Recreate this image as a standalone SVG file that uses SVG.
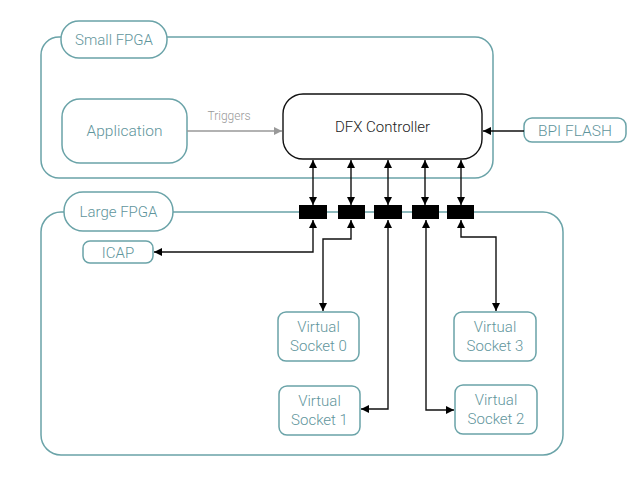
<svg xmlns="http://www.w3.org/2000/svg" width="642" height="479" viewBox="0 0 642 479">
<style>
.cont{fill:none;stroke:#6aa3a8;stroke-width:1.5}
.pill{fill:#fff;stroke:#6aa3a8;stroke-width:1.5}
.lbl{font-family:Roboto,"Liberation Sans",sans-serif;font-weight:300;fill:#5f959c;text-anchor:middle;font-size:15px}
.dark{font-family:Roboto,"Liberation Sans",sans-serif;font-weight:300;fill:#222;text-anchor:middle}
.w{fill:none;stroke:#111;stroke-width:1.4}
.sw{fill:#000}
</style>
<defs>
<marker id="ah" viewBox="0 0 10 10" refX="10" refY="5" markerWidth="9" markerHeight="8" markerUnits="userSpaceOnUse" orient="auto-start-reverse"><path d="M0,0L10,5L0,10z" fill="#000"/></marker>
<marker id="ahg" viewBox="0 0 10 10" refX="10" refY="5" markerWidth="9" markerHeight="8" markerUnits="userSpaceOnUse" orient="auto"><path d="M0,0L10,5L0,10z" fill="#999"/></marker>
</defs>
<rect width="642" height="479" fill="#fff"/>
<g id="small-fpga">
<rect class="cont" x="41" y="37" width="452" height="141" rx="18"/>
<rect class="pill" x="61" y="21" width="106" height="37" rx="18"/>
<text class="lbl" x="114" y="45">Small FPGA</text>
</g>
<g id="large-fpga">
<rect class="cont" x="41" y="212" width="522" height="243" rx="20"/>
<rect class="pill" x="64" y="192" width="109" height="39" rx="19"/>
<text class="lbl" x="118.500" y="217">Large FPGA</text>
</g>
<g id="application">
<rect class="pill" x="62" y="99" width="125" height="64" rx="18"/>
<text class="lbl" x="124.500" y="136" style="font-size:15.500px">Application</text>
</g>
<g id="dfx-controller">
<rect x="283" y="94" width="199" height="65" rx="20" fill="#fff" stroke="#111" stroke-width="1.4"/>
<text class="dark" x="382.500" y="132" font-size="15">DFX Controller</text>
</g>
<g id="bpi-flash">
<rect class="pill" x="524" y="118" width="102" height="24" rx="8"/>
<text class="lbl" x="575" y="135.500" style="font-size:15.500px">BPI FLASH</text>
</g>
<g id="icap">
<rect class="pill" x="83" y="241" width="70" height="22" rx="7"/>
<text class="lbl" x="118" y="257.500">ICAP</text>
</g>
<g id="vs0">
<rect class="pill" x="278" y="312" width="81" height="49" rx="8"/>
<text class="lbl" x="318.500" y="332">Virtual</text>
<text class="lbl" x="318.500" y="351">Socket 0</text>
</g>
<g id="vs1">
<rect class="pill" x="279" y="386" width="81" height="49" rx="8"/>
<text class="lbl" x="319.500" y="406">Virtual</text>
<text class="lbl" x="319.500" y="425">Socket 1</text>
</g>
<g id="vs2">
<rect class="pill" x="455" y="385" width="82" height="49" rx="8"/>
<text class="lbl" x="496" y="405">Virtual</text>
<text class="lbl" x="496" y="424">Socket 2</text>
</g>
<g id="vs3">
<rect class="pill" x="454" y="312" width="82" height="49" rx="8"/>
<text class="lbl" x="495" y="332">Virtual</text>
<text class="lbl" x="495" y="351">Socket 3</text>
</g>
<g id="connectors">
<line x1="187" y1="131" x2="282" y2="131" stroke="#999" stroke-width="1.4" marker-end="url(#ahg)"/>
<text x="229" y="120" font-family="Roboto,'Liberation Sans',sans-serif" font-weight="300" font-size="12" fill="#999" text-anchor="middle">Triggers</text>
<line class="w" x1="524" y1="131" x2="483" y2="131" marker-end="url(#ah)"/>
<line class="w" x1="313" y1="205" x2="313" y2="160" marker-start="url(#ah)" marker-end="url(#ah)"/>
<line class="w" x1="351" y1="205" x2="351" y2="160" marker-start="url(#ah)" marker-end="url(#ah)"/>
<line class="w" x1="388" y1="205" x2="388" y2="160" marker-start="url(#ah)" marker-end="url(#ah)"/>
<line class="w" x1="425" y1="205" x2="425" y2="160" marker-start="url(#ah)" marker-end="url(#ah)"/>
<line class="w" x1="461" y1="205" x2="461" y2="160" marker-start="url(#ah)" marker-end="url(#ah)"/>
<polyline class="w" points="313,220 313,252 154,252" marker-start="url(#ah)" marker-end="url(#ah)"/>
<polyline class="w" points="351,220 351,239 323,239 323,311" marker-start="url(#ah)" marker-end="url(#ah)"/>
<polyline class="w" points="388,220 388,409 361,409" marker-start="url(#ah)" marker-end="url(#ah)"/>
<polyline class="w" points="426,220 426,410 454,410" marker-start="url(#ah)" marker-end="url(#ah)"/>
<polyline class="w" points="461,220 461,237 496,237 496,311" marker-start="url(#ah)" marker-end="url(#ah)"/>
</g>
<g id="switches">
<rect class="sw" x="299" y="205" width="28" height="14"/>
<rect class="sw" x="338" y="205" width="27" height="14"/>
<rect class="sw" x="374" y="205" width="28" height="14"/>
<rect class="sw" x="412" y="205" width="27" height="14"/>
<rect class="sw" x="447" y="205" width="27" height="14"/>
</g>
</svg>
